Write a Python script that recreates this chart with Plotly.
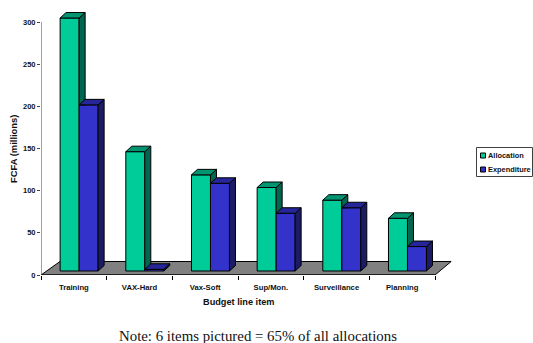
import plotly.graph_objects as go

categories = ["Training", "VAX-Hard", "Vax-Soft", "Sup/Mon.", "Surveillance", "Planning"]
allocation = [300, 141.5, 114, 99, 84, 62.5]
expenditure = [197, 2, 104, 68.5, 75, 29]
y_ticks = [0, 50, 100, 150, 200, 250, 300]

PXX = 65.67
PXY = 253 / 300
W, H = 533, 343
L, R, T, B = 41, 78, 10, 68
BAR_W = 19 / PXX
OFF_X = 5.3 / PXX
BASE = 4 / PXY
DX = 6 / PXX
DY = 5.5 / PXY
FLOOR_DX = 19 / PXX
FLOOR_DY = 13.5 / PXY

AC_F, AC_T, AC_S = "#00CC99", "#009470", "#006650"
EX_F, EX_T, EX_S = "#3333CC", "#26269A", "#1C1C66"
FONT = "Liberation Sans"


def px(x):
    return (x - L) / (W - L - R)


def py(y):
    return (H - B - y) / (H - T - B)


fig = go.Figure()
xmin = -0.5
xmax = xmin + (W - L - R) / PXX
ymax = (H - T - B) / PXY
n = len(categories)


def faces(values, centers, lows, side, top):
    sx, sy, tx, ty = [], [], [], []
    for c, v, lo in zip(centers, values, lows):
        l, r = c - BAR_W / 2, c + BAR_W / 2
        y1 = BASE + v
        y0 = BASE + lo
        rise = 0 if lo > 0 else DY
        sx += [r, r + DX, r + DX, r, r, None]
        sy += [y0, y0 + rise, y1 + DY, y1, y0, None]
        tx += [l, l + DX, r + DX, r, l, None]
        ty += [y1, y1 + DY, y1 + DY, y1, y1, None]
    for xs, ys, col in ((sx, sy, side), (tx, ty, top)):
        fig.add_trace(go.Scatter(x=xs, y=ys, mode="lines", fill="toself", fillcolor=col,
                                 line=dict(color="black", width=1), showlegend=False, hoverinfo="skip"))


idx = list(range(n))
a_centers = [i + OFF_X - BAR_W / 2 for i in idx]
e_centers = [i + OFF_X + BAR_W / 2 for i in idx]

fig.add_trace(go.Bar(x=a_centers, y=allocation, base=BASE, width=BAR_W, name="Allocation", showlegend=False,
                     marker=dict(color=AC_F, line=dict(color="black", width=1))))
fig.add_trace(go.Bar(x=e_centers, y=expenditure, base=BASE, width=BAR_W, name="Expenditure", showlegend=False,
                     marker=dict(color=EX_F, line=dict(color="black", width=1))))
# polygons lie above the bars, so the allocation side starts at the top of the expenditure bar
faces(allocation, a_centers, [min(a, e) for a, e in zip(allocation, expenditure)], AC_S, AC_T)
faces(expenditure, e_centers, [0] * n, EX_S, EX_T)
fig.add_trace(go.Scatter(x=idx, y=[None] * n, xaxis="x2", yaxis="y", showlegend=False, hoverinfo="skip"))

floor_path = (f"M {xmin} 0 L {xmin + FLOOR_DX} {FLOOR_DY} "
              f"L {xmin + n + FLOOR_DX * 0.85} {FLOOR_DY} L {xmin + n} 0 Z")

shapes = [
    dict(type="path", xref="x", yref="y", path=floor_path, fillcolor="#808080",
         line=dict(color="black", width=1), layer="below"),
    dict(type="line", xref="x", yref="y", x0=xmin, x1=xmin, y0=0, y1=300, line=dict(color="#808080", width=1.5)),
    dict(type="line", xref="x", yref="y", x0=xmin, x1=xmin + n, y0=0, y1=0, line=dict(color="black", width=1)),
    dict(type="rect", xref="paper", yref="paper", x0=px(476.5), x1=px(532.5), y0=py(147.5), y1=py(176.5),
         fillcolor="white", line=dict(color="#404040", width=1), layer="below"),
    dict(type="rect", xref="paper", yref="paper", x0=px(480.5), x1=px(485.5), y0=py(153), y1=py(158),
         fillcolor=AC_F, line=dict(color="black", width=1)),
    dict(type="rect", xref="paper", yref="paper", x0=px(480.5), x1=px(485.5), y0=py(167), y1=py(172),
         fillcolor=EX_F, line=dict(color="black", width=1)),
]


def note(text, x, y, size, family=FONT, angle=0, anchor="center", color="#111111"):
    return dict(text=text, xref="paper", yref="paper", x=px(x), y=py(y), xanchor=anchor, yanchor="middle",
                textangle=angle, showarrow=False, font=dict(family=family, size=size, color=color))


annotations = [
    note("<b>FCFA (millions)</b>", 13, 149, 9.4, angle=-90),
    note("<b>Budget line item</b>", 238, 302, 9.2),
    note("Note: 6 items pictured = 65% of all allocations", 258, 336, 14.85, family="Liberation Serif"),
    note("<b>Allocation</b>", 486.5, 155.5, 7.4, anchor="left"),
    note("<b>Expenditure</b>", 486.5, 169.5, 7.4, anchor="left"),
]

fig.update_layout(
    width=W, height=H, margin=dict(l=L, r=R, t=T, b=B, pad=0), autosize=False, showlegend=False,
    paper_bgcolor="white", plot_bgcolor="white", barmode="overlay", shapes=shapes, annotations=annotations,
    font=dict(family=FONT, size=7, color="black"),
    xaxis=dict(range=[xmin, xmax], tickmode="array", tickvals=[i - 0.5 for i in range(n + 1)],
               ticktext=[""] * (n + 1), ticks="outside", ticklen=4, tickwidth=1, tickcolor="black",
               showgrid=False, zeroline=False, showline=False),
    xaxis2=dict(range=[xmin, xmax], overlaying="x", side="bottom", anchor="y", tickmode="array",
                tickvals=idx, ticktext=[f"<b>{c}</b>" for c in categories], ticks="outside", ticklen=5,
                tickcolor="rgba(0,0,0,0)", tickfont=dict(family=FONT, size=7.7, color="#111111"),
                showgrid=False, zeroline=False),
    yaxis=dict(range=[0, ymax], tickmode="array", tickvals=y_ticks,
               ticktext=[f"<b>{t}</b>" for t in y_ticks], ticks="outside", ticklen=3, tickwidth=1,
               tickcolor="#404040", tickfont=dict(family=FONT, size=7.5, color="#111111"),
               showgrid=False, zeroline=False, showline=False),
)

fig.write_html("out.html", config=dict(displayModeBar=False),
               post_script="document.body.style.margin='0';")
